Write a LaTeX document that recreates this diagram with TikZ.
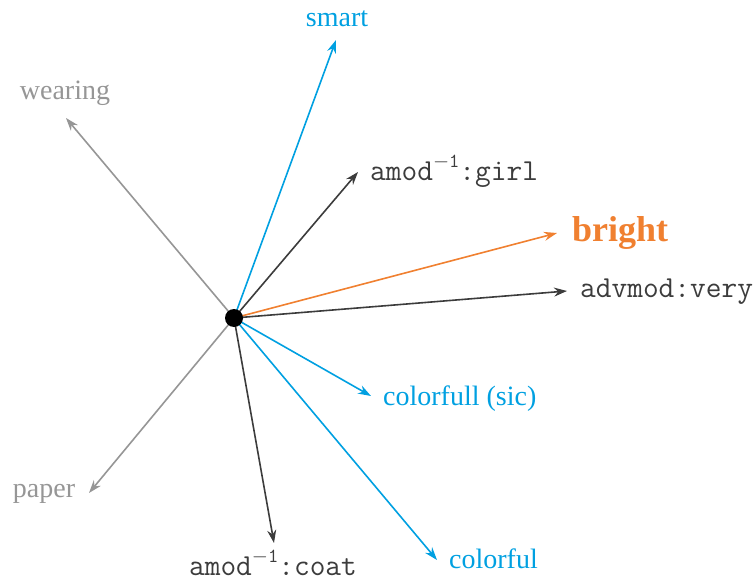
\documentclass[tikz,border=0pt]{standalone}
\usepackage{fontspec}
\setmainfont{Liberation Serif}
\usetikzlibrary{arrows.meta}
\definecolor{skyblue}{RGB}{0,160,225}
\definecolor{warmorange}{RGB}{240,128,48}
\definecolor{lightgray}{RGB}{150,150,150}
\definecolor{darkline}{RGB}{60,60,60}
\newcommand{\invsup}{\raisebox{0.42em}{\fontsize{20}{20}\selectfont$-$1}}
\tikzset{
  vec/.style={line width=1.6pt, -{Stealth[length=13pt,width=9pt]}},
  wordlbl/.style={font=\fontsize{28}{30}\selectfont, inner sep=0pt},
  ttlbl/.style={font=\fontsize{30.5}{32}\selectfont\ttfamily, inner sep=0pt},
  boldlbl/.style={font=\fontsize{36}{38}\selectfont\bfseries, inner sep=0pt},
}
\begin{document}
\begin{tikzpicture}[x=1pt,y=-1pt]
\useasboundingbox (0,0) rectangle (755,583);

% labels
\node[wordlbl, text=skyblue, anchor=base] (smart) at (337,27) {smart};
\node[wordlbl, text=lightgray, anchor=base] (wearing) at (65,100) {wearing};
\node[ttlbl, text=darkline, anchor=base west] (girl) at (370,180) {amod\invsup:girl};
\node[boldlbl, text=warmorange, anchor=base west] (bright) at (572,241) {bright};
\node[ttlbl, text=darkline, anchor=base west] (very) at (580,297) {advmod:very};
\node[wordlbl, text=skyblue, anchor=base west] (sic) at (383,405) {colorfull (sic)};
\node[wordlbl, text=skyblue, anchor=base west] (colorful) at (449,568) {colorful};
\node[ttlbl, text=darkline, anchor=base] (coat) at (273,575) {amod\invsup:coat};
\node[wordlbl, text=lightgray, anchor=base] (paper) at (44,497) {paper};

% arrow tips
\coordinate (c) at (234,318);
\coordinate (tsmart) at (336,40);
\coordinate (twearing) at (66,118);
\coordinate (tgirl) at (358,172);
\coordinate (tbright) at (557,233);
\coordinate (tvery) at (567,291);
\coordinate (tsic) at (371,396);
\coordinate (tcolorful) at (437,560);
\coordinate (tcoat) at (274,543);
\coordinate (tpaper) at (89,493);

% vectors
\draw[vec, lightgray] (c) -- (twearing);
\draw[vec, lightgray] (c) -- (tpaper);
\draw[vec, skyblue] (c) -- (tsmart);
\draw[vec, darkline] (c) -- (tgirl);
\draw[vec, warmorange] (c) -- (tbright);
\draw[vec, darkline] (c) -- (tvery);
\draw[vec, skyblue] (c) -- (tsic);
\draw[vec, skyblue] (c) -- (tcolorful);
\draw[vec, darkline] (c) -- (tcoat);

% origin
\node[circle, fill=black, minimum size=18pt, inner sep=0pt] (origin) at (c) {};
\end{tikzpicture}
\end{document}
